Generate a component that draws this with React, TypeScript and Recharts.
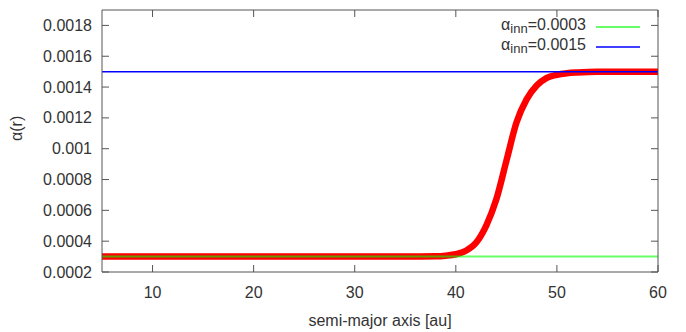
import { Line, LineChart, XAxis, YAxis } from "recharts";

// semi-major axis [au] samples for the alpha(r) transition curve
const radius = [5, 10, 20, 30, 35, 38, 39, 40, 41, 42, 43, 44, 45, 46, 47, 48, 49, 50, 51, 52, 54, 56, 60];
const alphaR = [
  0.0003, 0.0003, 0.0003, 0.0003, 0.0003, 0.000302, 0.000306, 0.000315, 0.000338, 0.00039, 0.0005,
  0.00067, 0.00092, 0.00117, 0.00132, 0.00141, 0.00146, 0.00148, 0.00149, 0.001495, 0.0015, 0.0015, 0.0015,
];
const innLow = [
  { r: 5, a: 0.0003 },
  { r: 60, a: 0.0003 },
];
const innHigh = [
  { r: 5, a: 0.0015 },
  { r: 60, a: 0.0015 },
];
const legendValues = ["0.0003", "0.0015"];
const xTicks = [10, 20, 30, 40, 50, 60];
const yTicks = [0.0002, 0.0004, 0.0006, 0.0008, 0.001, 0.0012, 0.0014, 0.0016, 0.0018];

const data = radius.map((r, i) => ({ r, a: alphaR[i] }));

const W = 686;
const H = 332;
const PL = 102;
const PR = 658;
const PT = 10;
const PB = 272;
const TICK = 7;
const FONT = "'Liberation Sans', Arial, sans-serif";
const TXT = "#333";
const BORDER = "#555";

const GREEN = "#00ff00";
const BLUE = "#0000ff";
const legendStyles = [
  { color: GREEN, opacity: 0.6, width: 2 },
  { color: BLUE, opacity: 1, width: 1.5 },
];

function BottomTick(props: any) {
  const x = props.x;
  return (
    <g>
      <line x1={x} x2={x} y1={PB} y2={PB - TICK} stroke={BORDER} />
      <text x={x} y={292} textAnchor="middle" dominantBaseline="central" fill={TXT} fontSize={16} fontFamily={FONT}>
        {props.payload.value}
      </text>
    </g>
  );
}

function TopTick(props: any) {
  const x = props.x;
  return <line x1={x} x2={x} y1={PT} y2={PT + TICK} stroke={BORDER} />;
}

function LeftTick(props: any) {
  const y = props.y;
  return (
    <g>
      <line x1={PL} x2={PL + TICK} y1={y} y2={y} stroke={BORDER} />
      <text x={PL - 10} y={y} textAnchor="end" dominantBaseline="central" fill={TXT} fontSize={16} fontFamily={FONT}>
        {String(props.payload.value)}
      </text>
    </g>
  );
}

function RightTick(props: any) {
  const y = props.y;
  return <line x1={PR} x2={PR - TICK} y1={y} y2={y} stroke={BORDER} />;
}

function LegendBox() {
  return (
    <div style={{ position: "absolute", top: 17, right: W - 640, fontFamily: FONT, fontSize: 16, color: TXT }}>
      {legendValues.map((v, i) => (
        <div key={v} style={{ display: "flex", alignItems: "center", justifyContent: "flex-end", height: 20 }}>
          <span style={{ lineHeight: "20px" }}>
            α<sub style={{ fontSize: 13, verticalAlign: "-3px" }}>inn</sub>={v}
          </span>
          <svg width={54} height={20} style={{ display: "block" }}>
            <line x1={10} x2={54} y1={10} y2={10} stroke={legendStyles[i].color}
              strokeWidth={legendStyles[i].width} strokeOpacity={legendStyles[i].opacity} />
          </svg>
        </div>
      ))}
    </div>
  );
}

export default function App() {
  return (
    <div style={{ position: "absolute", left: 0, top: 0, width: W, height: H, background: "#fff" }}>
      <LineChart width={W} height={H} data={data} margin={{ top: PT - 1, right: W - PR - 1, bottom: 0, left: 0 }}>
        <XAxis dataKey="r" type="number" domain={[5, 60]} ticks={xTicks} allowDataOverflow
          height={H - PB} axisLine={{ stroke: BORDER }} tickLine={false} tick={<BottomTick />}
          label={{ value: "semi-major axis [au]", position: "insideBottom", offset: 6, fill: TXT, fontSize: 16, fontFamily: FONT }} />
        <XAxis xAxisId="top" dataKey="r" type="number" orientation="top" domain={[5, 60]} ticks={xTicks}
          allowDataOverflow height={1} axisLine={{ stroke: BORDER }} tickLine={false} tick={<TopTick />} />
        <YAxis type="number" domain={[0.0002, 0.0019]} ticks={yTicks} allowDataOverflow width={PL}
          axisLine={{ stroke: BORDER }} tickLine={false} tick={<LeftTick />}
          label={{ value: "α(r)", angle: -90, position: "insideLeft", offset: 16, fill: TXT, fontSize: 16, fontFamily: FONT }} />
        <YAxis yAxisId="right" type="number" orientation="right" domain={[0.0002, 0.0019]} ticks={yTicks}
          allowDataOverflow width={1} axisLine={{ stroke: BORDER }} tickLine={false} tick={<RightTick />} />
        <Line dataKey="a" type="monotone" stroke="#ff0000" strokeWidth={6.5} strokeLinecap="round"
          dot={false} isAnimationActive={false} />
        <Line data={innLow} dataKey="a" type="linear" stroke={GREEN} strokeOpacity={0.6} strokeWidth={2}
          dot={false} isAnimationActive={false} />
        <Line data={innHigh} dataKey="a" xAxisId="top" yAxisId="right" type="linear" stroke={BLUE} strokeWidth={1.5}
          dot={false} isAnimationActive={false} />
      </LineChart>
      <LegendBox />
    </div>
  );
}
